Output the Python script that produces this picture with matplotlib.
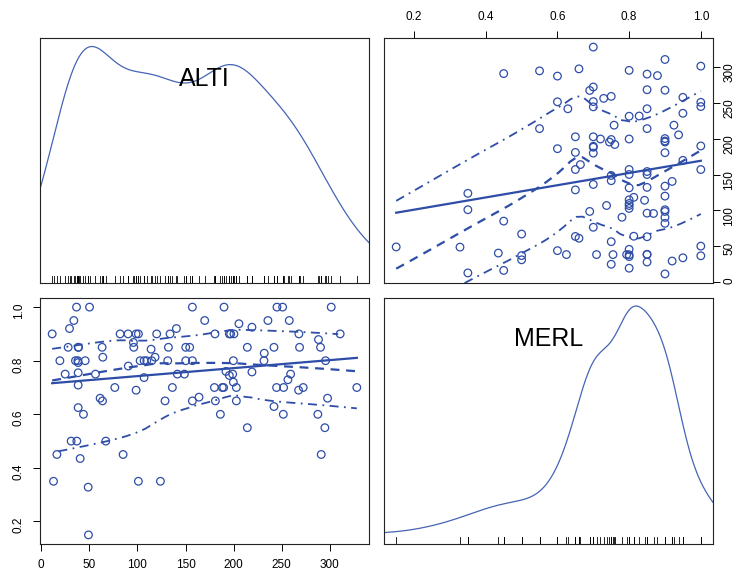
import numpy as np
import matplotlib
matplotlib.use('Agg')
import matplotlib.pyplot as plt

plt.rcParams['font.family'] = ['Liberation Sans', 'DejaVu Sans']

# (ALTI, MERL) pairs
alti = np.array([
    36.7, 50.2, 157.1, 190.0, 245.0, 250.9, 301.4,
    33.9, 169.9, 235.6, 257.8,
    205.5, 219.0, 29.4, 140.5,
    11.4, 82.0, 90.3, 98.6, 101.0, 120.0, 133.9, 180.6, 195.5, 196.9, 200.3, 267.8, 310.7,
    288.2, 95.8,
    28.0, 38.4, 38.8, 63.3, 96.2, 132.2, 150.2, 154.3, 214.2, 241.9, 268.5, 290.3,
    114.2, 231.8, 64.0, 118.3,
    19.4, 35.6, 38.1, 45.7, 102.8, 106.9, 109.7, 114.9, 131.5, 150.2, 157.1, 199.7, 231.5, 295.5,
    38.4, 90.5, 192.0, 219.0, 38.4,
    24.9, 56.4, 141.5, 148.8, 199.0, 259.2,
    195.5, 106.9, 256.4, 199.7, 38.4,
    76.5, 136.3, 180.0, 188.2, 189.6, 202.8, 244.6, 251.9, 272.3, 328.0,
    98.6, 267.5, 164.0, 61.2, 297.6,
    63.7, 128.7, 157.1, 181.0, 202.8,
    241.9, 38.4,
    43.9, 186.2, 251.6, 287.5,
    214.2, 294.8,
    31.1, 37.0, 67.1,
    16.3, 85.1, 291.0, 40.5,
    12.8, 101.0, 123.9, 48.8, 49.1,
])
merl = np.array([
    1.0, 1.0, 1.0, 1.0, 1.0, 1.0, 1.0,
    0.95, 0.95, 0.95, 0.95,
    0.938, 0.925, 0.92, 0.92,
    0.9, 0.9, 0.9, 0.9, 0.9, 0.9, 0.9, 0.9, 0.9, 0.9, 0.9, 0.9, 0.9,
    0.879, 0.868,
    0.85, 0.85, 0.85, 0.85, 0.85, 0.85, 0.85, 0.85, 0.85, 0.85, 0.85, 0.85,
    0.843, 0.828, 0.813, 0.813,
    0.8, 0.8, 0.8, 0.8, 0.8, 0.8, 0.8, 0.8, 0.8, 0.8, 0.8, 0.8, 0.8, 0.8,
    0.793, 0.78, 0.76, 0.758, 0.755,
    0.75, 0.75, 0.75, 0.75, 0.75, 0.75,
    0.745, 0.737, 0.729, 0.72, 0.709,
    0.7, 0.7, 0.7, 0.7, 0.7, 0.7, 0.7, 0.7, 0.7, 0.7,
    0.69, 0.69, 0.664, 0.66, 0.66,
    0.65, 0.65, 0.65, 0.65, 0.65,
    0.629, 0.625,
    0.6, 0.6, 0.6, 0.6,
    0.55, 0.55,
    0.5, 0.5, 0.5,
    0.45, 0.45, 0.45, 0.435,
    0.35, 0.35, 0.35, 0.328, 0.15,
])

names = ['ALTI', 'MERL']
alti_ticks = [0, 50, 100, 150, 200, 250, 300]
merl_ticks = [0.2, 0.4, 0.6, 0.8, 1.0]
merl_labels = ['0.2', '0.4', '0.6', '0.8', '1.0']

BLUE = '#2E4DA7'
DENS_BLUE = '#4564B5'


def lim(v):
    r = v.max() - v.min()
    return v.min() - 0.04 * r, v.max() + 0.04 * r


def loess(x, y, xeval, span=2/3, degree=1, iterations=4):
    n = len(x)
    q = max(int(np.floor(n * span)), 2)
    rw = np.ones(n)

    def fit_at(x0, rw):
        d = np.abs(x - x0)
        h = np.sort(d)[q - 1] * 1.0000001
        w = np.clip(1 - (d / h) ** 3, 0, None) ** 3 * rw
        if degree == 0:
            return np.sum(w * y) / np.sum(w)
        X = np.column_stack([np.ones(n), x - x0])
        W = X * w[:, None]
        beta = np.linalg.lstsq(X.T @ W, W.T @ y, rcond=None)[0]
        return beta[0]

    for _ in range(iterations - 1):
        fitted = np.array([fit_at(x0, rw) for x0 in x])
        res = y - fitted
        s = np.median(np.abs(res))
        if s == 0:
            break
        u = res / (6 * s)
        rw = np.where(np.abs(u) < 1, (1 - u ** 2) ** 2, 0)
    return np.array([fit_at(x0, rw) for x0 in xeval])


def scatter_panel(ax, x, y):
    ax.scatter(x, y, s=30, facecolors='none', edgecolors=BLUE, linewidths=0.9, zorder=3)
    b1, b0 = np.polyfit(x, y, 1)
    xs = np.array([x.min(), x.max()])
    ax.plot(xs, b0 + b1 * xs, color=BLUE, lw=1.6, zorder=4)

    xe = np.linspace(x.min(), x.max(), 50)
    ye = loess(x, y, xe)
    ax.plot(xe, ye, color=BLUE, lw=1.6, ls=(0, (4, 3)), zorder=4)

    # spread: local means of squared residuals above / below the smooth
    res = y - loess(x, y, x)
    for sign, mask in ((1, res > 0), (-1, res <= 0)):
        xp = x[mask]
        keep = (xe >= xp.min()) & (xe <= xp.max())
        spread = np.sqrt(loess(xp, res[mask] ** 2, xe[keep], degree=0, iterations=1))
        ax.plot(xe[keep], ye[keep] + sign * spread, color=BLUE, lw=1.3,
                ls=(0, (5, 3, 1, 3)), zorder=4)
    ax.set_xlim(lim(x))
    ax.set_ylim(lim(y))


def adaptive_density(v, npts=500, cut=3):
    n = len(v)
    iqr = np.subtract(*np.percentile(v, [75, 25]))
    bw = 0.9 * min(v.std(ddof=1), iqr / 1.34) * n ** -0.2
    gauss = lambda z: np.exp(-0.5 * z ** 2) / np.sqrt(2 * np.pi)
    pilot = gauss((v[:, None] - v[None, :]) / bw).mean(axis=1) / bw
    g = np.exp(np.mean(np.log(pilot)))
    h = bw * np.sqrt(g / pilot)
    grid = np.linspace(v.min() - cut * bw, v.max() + cut * bw, npts)
    dens = (gauss((grid[:, None] - v[None, :]) / h[None, :]) / h[None, :]).mean(axis=1)
    return grid, dens


def density_panel(ax, v, label):
    grid, dens = adaptive_density(v)
    yplot = v.min() + dens * (v.max() - v.min()) / (dens.max() - dens.min())
    ax.plot(grid, yplot, color=DENS_BLUE, lw=0.9)
    lo, hi = lim(v)
    ax.set_xlim(lo, hi)
    ax.set_ylim(lo, hi)
    for xv in v:
        ax.axvline(xv, ymin=0, ymax=0.03, color='black', lw=0.6)
    ax.text(0.5, 0.833, label, transform=ax.transAxes, ha='center', va='center', fontsize=18)
    ax.set_xticks([])
    ax.set_yticks([])


fig = plt.figure(figsize=(7.37, 5.78), dpi=100)
W, H = 737, 578


def add_ax(x0, y0, x1, y1):
    return fig.add_axes([x0 / W, (H - y1) / H, (x1 - x0) / W, (y1 - y0) / H])


ax_ul = add_ax(40, 38, 369, 283)
ax_ur = add_ax(384, 38, 713, 283)
ax_ll = add_ax(40, 298, 369, 544)
ax_lr = add_ax(384, 298, 713, 544)

density_panel(ax_ul, alti, names[0])
density_panel(ax_lr, merl, names[1])

scatter_panel(ax_ur, merl, alti)
ax_ur.xaxis.tick_top()
ax_ur.yaxis.tick_right()
ax_ur.set_xticks(merl_ticks)
ax_ur.set_xticklabels(merl_labels)
ax_ur.set_yticks(alti_ticks)

scatter_panel(ax_ll, alti, merl)
ax_ll.set_xticks(alti_ticks)
ax_ll.set_yticks(merl_ticks)
ax_ll.set_yticklabels(merl_labels)
ax_ll.tick_params(axis='y', labelrotation=90)

for ax in (ax_ul, ax_ur, ax_ll, ax_lr):
    for sp in ax.spines.values():
        sp.set_linewidth(0.8)
        sp.set_color('#222222')
    ax.tick_params(labelsize=8.5, length=5, width=0.7, pad=6)

# right-hand labels sit close to the figure edge
ax_ur.tick_params(axis='y', labelrotation=90, pad=2.5)

fig.savefig('out.png', dpi=100)
